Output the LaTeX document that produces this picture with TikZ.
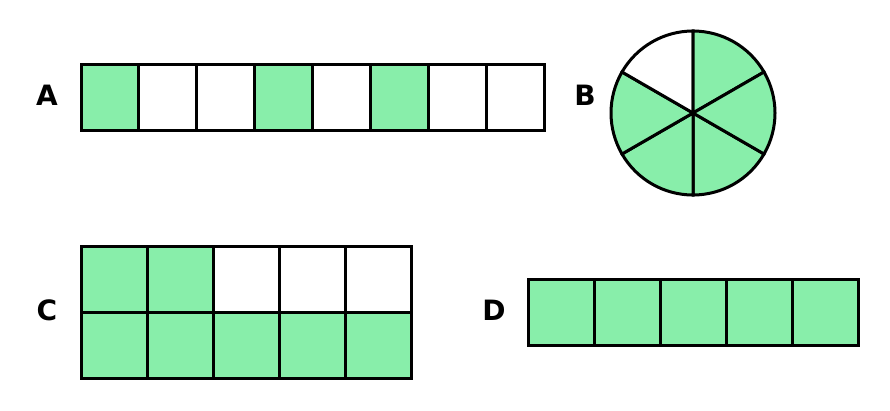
\documentclass[tikz,border=0pt]{standalone}
\usepackage{fontspec}
\setmainfont{DejaVu Sans}
\begin{document}
\begin{tikzpicture}[x=1pt,y=-1pt,line width=3pt,
  lab/.style={font=\bfseries\fontsize{28}{28}\selectfont}]
\useasboundingbox (0,0) rectangle (890,410);
\definecolor{g}{RGB}{136,238,170}
% A
\foreach \i/\s in {0/g,1/white,2/white,3/g,4/white,5/g,6/white,7/white}
  \draw[fill=\s] (81+\i*57.875,64) rectangle ++(57.875,66);
\node[lab] (la) at (47,95) {A};
% B
\node[lab] (lb) at (585,95) {B};
\coordinate (c) at (693,113);
\foreach \a/\s in {90/g,150/g,210/g,270/white,330/g,30/g}
  \draw[fill=\s] (c) -- ++(\a:82) arc[start angle=\a,delta angle=-60,radius=82] -- cycle;
% C
\foreach \i/\s in {0/g,1/g,2/white,3/white,4/white}
  \draw[fill=\s] (81+\i*66,246) rectangle ++(66,66);
\foreach \i in {0,...,4}
  \draw[fill=g] (81+\i*66,312) rectangle ++(66,66);
\node[lab] (lc) at (47,310) {C};
% D
\foreach \i in {0,...,4}
  \draw[fill=g] (528+\i*66,279) rectangle ++(66,66);
\node[lab] (ld) at (494,310) {D};
\end{tikzpicture}
\end{document}
